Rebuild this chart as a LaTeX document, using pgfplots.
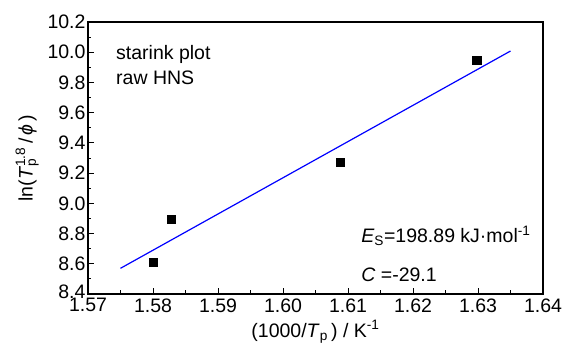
\documentclass[border=0pt]{standalone}
\usepackage{fontspec}
\setmainfont{Liberation Sans}
\usepackage{pgfplots}
\pgfplotsset{compat=1.18}

\newcommand{\chartfont}{\fontsize{19.5}{22}\selectfont}

\begin{document}
\begin{tikzpicture}
\begin{axis}[
  at={(0,0)}, anchor=south west,
  scale only axis,
  width=455pt, height=272pt,
  xmin=1.57, xmax=1.64,
  ymin=8.4, ymax=10.2,
  xtick={1.57,1.58,...,1.64},
  ytick={8.4,8.6,...,10.2},
  minor x tick num=1,
  minor y tick num=1,
  xtick pos=bottom, ytick pos=left,
  tick align=inside,
  major tick length=6pt, minor tick length=3.5pt,
  every tick/.style={black, line width=0.9pt},
  axis line style={line width=1.1pt},
  /pgf/number format/assume math mode=true,
  tick label style={font=\chartfont},
  xticklabel style={yshift=-1pt, /pgf/number format/.cd, fixed, fixed zerofill, precision=2},
  yticklabel style={xshift=1pt, /pgf/number format/.cd, fixed, fixed zerofill, precision=1},
  % lift the lowest y label a little so it clears the corner x label
  yticklabel={\ifnum\ticknum=0\raisebox{4pt}{\pgfmathprintnumber{\tick}}\else\pgfmathprintnumber{\tick}\fi},
  label style={font=\chartfont},
  xlabel={(1000/\textit{T}\textsubscript{p}\,) / K\textsuperscript{-1}},
  ylabel={ln(\textit{T}\rlap{\textsubscript{p}}\textsuperscript{1.8}\,/\,\textit{ϕ}\,)},
  xlabel style={yshift=-1pt},
  ylabel style={yshift=2pt},
  clip=false,
]
% Starink fit line
\addplot[blue, line width=1.2pt] coordinates {(1.575,8.57) (1.635,10.008)};
% measured peak data
\addplot[only marks, mark=square*, mark size=4.2pt, black] coordinates {
  (1.5800,8.612)
  (1.5828,8.895)
  (1.6088,9.272)
  (1.6298,9.948)
};
\node[anchor=base west, font=\chartfont]
  at (axis cs:1.5738,9.95) {starink plot};
\node[anchor=base west, font=\chartfont]
  at (axis cs:1.5738,9.785) {raw HNS};
\node[anchor=base west, font=\chartfont]
  at (axis cs:1.6115,8.74) {\textit{E}\textsubscript{S}=198.89 kJ·mol\textsuperscript{-1}};
\node[anchor=base west, font=\chartfont]
  at (axis cs:1.6115,8.48) {\textit{C} =-29.1};
\end{axis}
\pgfresetboundingbox
\path (-88pt,-49pt) rectangle (480pt,294pt);
\end{tikzpicture}
\end{document}
